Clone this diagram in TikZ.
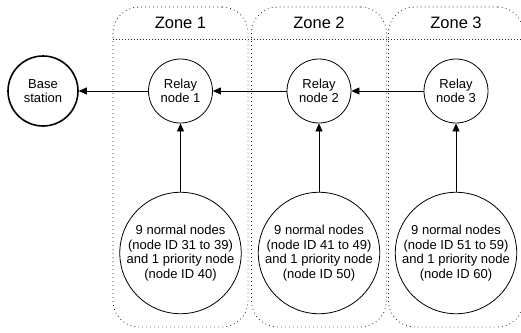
\documentclass[tikz,border=0pt]{standalone}
\usepackage{fontspec}
\setmainfont{Liberation Sans}
\usetikzlibrary{arrows.meta}
\begin{document}
\begin{tikzpicture}[x=1pt,y=-1pt,
  zonebox/.style={draw=black!85, line width=0.8pt, dash pattern=on 0.8pt off 3.2pt,
    rounded corners=26pt, minimum width=135pt, minimum height=320pt, inner sep=0pt},
  zonerule/.style={draw=black!85, line width=0.8pt, dash pattern=on 0.8pt off 2.2pt},
  zonetitle/.style={font=\fontsize{16.5}{18}\selectfont, inner sep=0pt},
  relay/.style={circle, draw, line width=0.8pt, minimum size=64pt, inner sep=0pt,
    align=center, font=\fontsize{13}{14.5}\selectfont},
  group/.style={circle, draw, line width=0.8pt, minimum size=121pt, inner sep=0pt,
    align=center, font=\fontsize{13}{14.7}\selectfont},
  basest/.style={circle, draw, line width=1.6pt, minimum size=70pt, inner sep=0pt,
    align=center, font=\fontsize{13}{14.5}\selectfont},
  link/.style={draw, line width=0.8pt, -{Triangle[length=8pt,width=7pt]}}
]
\useasboundingbox (0,0) rectangle (521,332);

% zones: dotted boxes with a rounded top and a header rule
\node[zonebox] (z1) at (180.5,167) {};
\node[zonebox] (z2) at (319,167) {};
\node[zonebox] (z3) at (456,167) {};
\foreach \z/\t in {z1/Zone 1, z2/Zone 2, z3/Zone 3}{
  \coordinate (\z hl) at ([yshift=-33pt]\z.north west);
  \coordinate (\z hr) at ([yshift=-33pt]\z.north east);
  \draw[zonerule] (\z hl) -- (\z hr);
  \node[zonetitle] (\z title) at ([yshift=-16pt]\z.north) {\t};
}

% sink and relays
\node[basest] (bs) at (43,91) {Base\\station};
\node[relay] (r1) at (180.5,91) {Relay\\node 1};
\node[relay] (r2) at (319,91) {Relay\\node 2};
\node[relay] (r3) at (456,91) {Relay\\node 3};

% node groups
\node[group] (g1) at (180.5,253) {9 normal nodes\\(node ID 31 to 39)\\and 1 priority node\\(node ID 40)};
\node[group] (g2) at (319,253) {9 normal nodes\\(node ID 41 to 49)\\and 1 priority node\\(node ID 50)};
\node[group] (g3) at (456,253) {9 normal nodes\\(node ID 51 to 59)\\and 1 priority node\\(node ID 60)};

% links
\draw[link] (r1) -- (bs);
\draw[link] (r2) -- (r1);
\draw[link] (r3) -- (r2);
\draw[link] (g1) -- (r1);
\draw[link] (g2) -- (r2);
\draw[link] (g3) -- (r3);
\end{tikzpicture}
\end{document}
